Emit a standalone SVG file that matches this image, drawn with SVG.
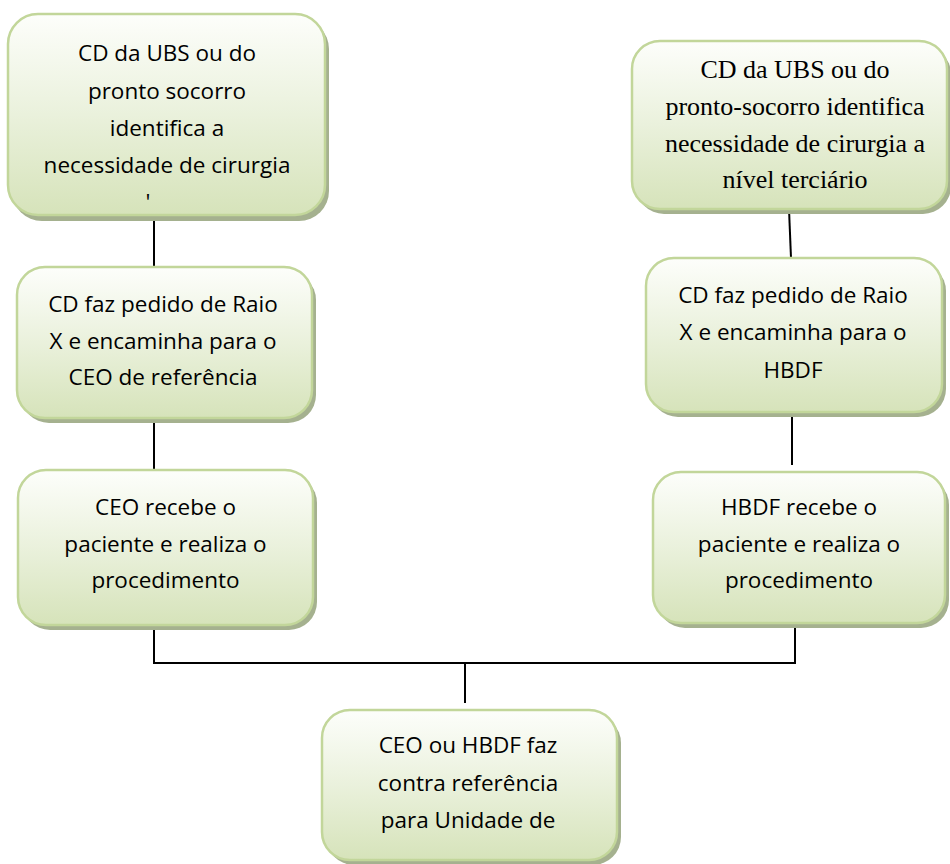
<svg xmlns="http://www.w3.org/2000/svg" width="950" height="864" viewBox="0 0 950 864">
<defs>
<linearGradient id="fillG" x1="0" y1="0" x2="0" y2="1">
<stop offset="0" stop-color="#fdfefb"/>
<stop offset="0.5" stop-color="#eaf1dc"/>
<stop offset="1" stop-color="#d6e3ba"/>
</linearGradient>
</defs>
<style>
.box{fill:url(#fillG);stroke:#c2d69a;stroke-width:2.5}
.shadow{fill:#a5b18f}
.t{font-family:"Open Sans","Liberation Sans",sans-serif;font-size:22.5px;fill:#000;text-anchor:middle}
.s{font-family:"Liberation Serif","Times New Roman",serif;font-size:26px;fill:#000;text-anchor:middle}
.c{stroke:#000;stroke-width:2;fill:none}
</style>
<rect width="950" height="864" fill="#fff"/>
<g id="connectors">
<line class="c" x1="154" y1="215" x2="154" y2="267"/>
<line class="c" x1="154" y1="418" x2="154" y2="470"/>
<line class="c" x1="154" y1="625" x2="154" y2="663"/>
<line class="c" x1="153" y1="663" x2="796" y2="663"/>
<line class="c" x1="795" y1="623" x2="795" y2="663"/>
<line class="c" x1="465" y1="663" x2="465" y2="703"/>
<line class="c" x1="789" y1="209" x2="791" y2="258"/>
<line class="c" x1="792" y1="412" x2="792" y2="465"/>
</g>
<g id="node-l1">
<rect class="shadow" x="12" y="19" width="317" height="202" rx="30"/>
<rect class="box" x="8" y="14" width="317" height="201" rx="30"/>
<text class="t" x="167" y="61">CD da UBS ou do</text>
<text class="t" x="167" y="98.5">pronto socorro</text>
<text class="t" x="167" y="136">identifica a</text>
<text class="t" x="167" y="173">necessidade de cirurgia</text>
<text class="t" x="148" y="210">'</text>
</g>
<g id="node-l2">
<rect class="shadow" x="21" y="272" width="295" height="151" rx="28"/>
<rect class="box" x="17" y="267" width="295" height="151" rx="28"/>
<text class="t" x="163" y="312">CD faz pedido de Raio</text>
<text class="t" x="163" y="348.5">X e encaminha para o</text>
<text class="t" x="163" y="385">CEO de referência</text>
</g>
<g id="node-l3">
<rect class="shadow" x="22" y="475" width="295" height="155" rx="28"/>
<rect class="box" x="18" y="470" width="295" height="155" rx="28"/>
<text class="t" x="165.5" y="515">CEO recebe o</text>
<text class="t" x="165.5" y="551.5">paciente e realiza o</text>
<text class="t" x="165.5" y="588">procedimento</text>
</g>
<g id="node-r1">
<rect class="shadow" x="636" y="46" width="315" height="168" rx="28"/>
<rect class="box" x="632" y="41" width="315" height="168" rx="28"/>
<text class="s" x="795" y="78">CD da UBS ou do</text>
<text class="s" x="795" y="115">pronto-socorro identifica</text>
<text class="s" x="795" y="152">necessidade de cirurgia a</text>
<text class="s" x="795" y="188">nível terciário</text>
</g>
<g id="node-r2">
<rect class="shadow" x="650" y="263" width="296" height="154" rx="28"/>
<rect class="box" x="646" y="258" width="296" height="154" rx="28"/>
<text class="t" x="793" y="303">CD faz pedido de Raio</text>
<text class="t" x="793" y="340">X e encaminha para o</text>
<text class="t" x="793" y="378">HBDF</text>
</g>
<g id="node-r3">
<rect class="shadow" x="657" y="477" width="292" height="151" rx="28"/>
<rect class="box" x="653" y="472" width="292" height="151" rx="28"/>
<text class="t" x="799" y="515">HBDF recebe o</text>
<text class="t" x="799" y="551.5">paciente e realiza o</text>
<text class="t" x="799" y="588">procedimento</text>
</g>
<g id="node-b">
<rect class="shadow" x="326" y="715" width="295" height="150" rx="28"/>
<rect class="box" x="322" y="710" width="295" height="150" rx="28"/>
<text class="t" x="468" y="753">CEO ou HBDF faz</text>
<text class="t" x="468" y="790.5">contra referência</text>
<text class="t" x="468" y="828">para Unidade de</text>
</g>
</svg>
